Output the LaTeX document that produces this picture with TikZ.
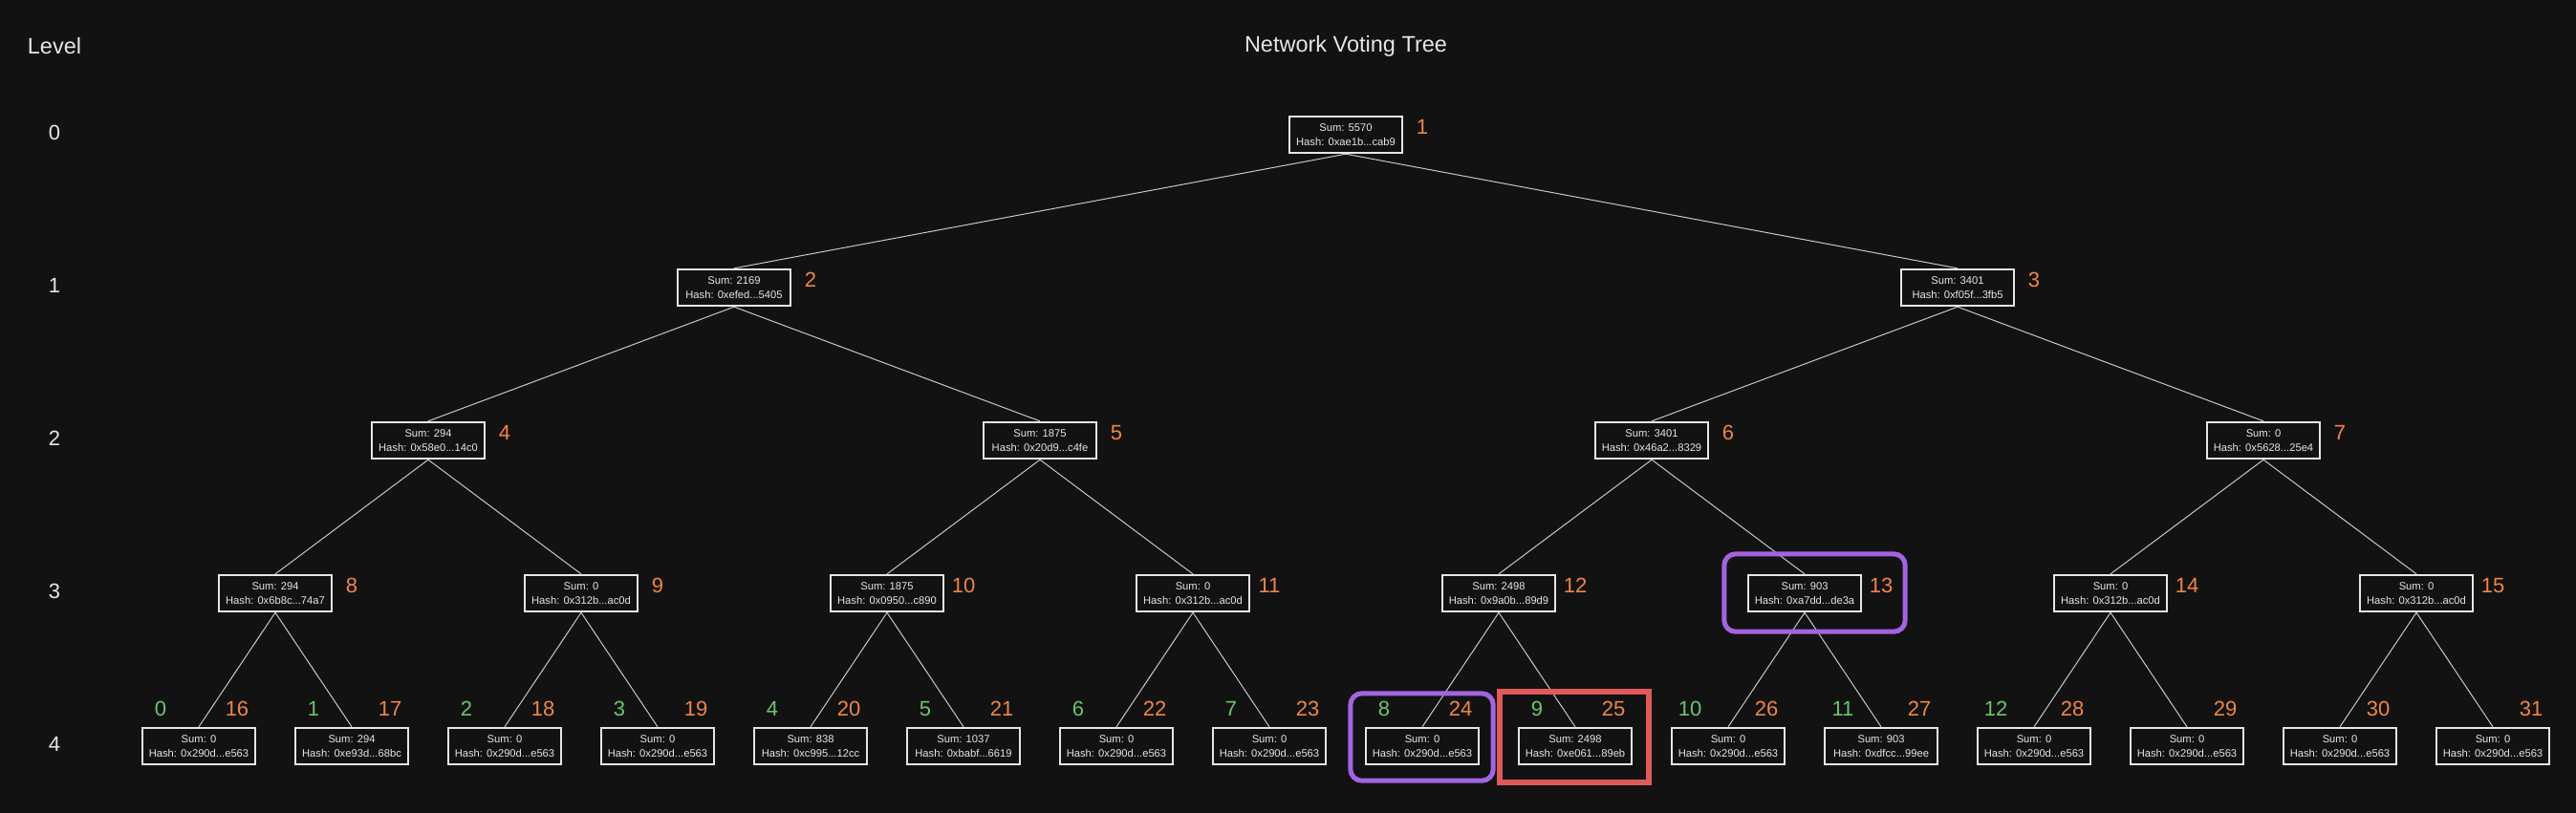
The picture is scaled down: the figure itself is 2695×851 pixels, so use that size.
\documentclass[tikz,border=0pt]{standalone}
\usepackage{fontspec}
\setmainfont{Liberation Sans}
\usetikzlibrary{calc}

\definecolor{bgc}{HTML}{121212}
\definecolor{boxc}{HTML}{E6E6E6}
\definecolor{linkc}{HTML}{C8C8C8}
\definecolor{numc}{HTML}{F08548}
\definecolor{votec}{HTML}{6CC46C}
\definecolor{hlpurple}{HTML}{A463E0}
\definecolor{hlred}{HTML}{E05A5A}

\begin{document}
\begin{tikzpicture}[x=1pt,y=-1pt,
  tree/.style={draw=boxc,line width=2.4pt,fill=bgc,text=boxc,minimum width=118pt,minimum height=38pt,inner sep=1pt,align=center,font=\fontsize{11.2}{15}\selectfont},
  num/.style={text=numc,inner sep=0pt,font=\fontsize{22}{26}\selectfont},
  vote/.style={num,text=votec},
  lvl/.style={text=boxc,inner sep=0pt,font=\fontsize{22}{26}\selectfont},
  heading/.style={text=boxc,inner sep=0pt,font=\fontsize{23.5}{28}\selectfont},
  link/.style={draw=linkc,line width=1pt},
  purplebox/.style={draw=hlpurple,line width=5pt,rounded corners=12pt},
  redbox/.style={draw=hlred,line width=6pt}]

\fill[bgc] (0,0) rectangle (2695,851);
\useasboundingbox (0,0) rectangle (2695,851);

\node[heading] (title) at (1408,48) {Network Voting Tree};
\node[heading] (levelhead) at (57,48) {Level};
\foreach \l in {0,...,4}
  \node[lvl] (lv\l) at (57,{139+160*\l}) {\l};

% level 0 - 3
\node[tree] (n1)  at (1408,141) {Sum: 5570\\Hash: 0xae1b...cab9};
\node[tree] (n2)  at (768,301)  {Sum: 2169\\Hash: 0xefed...5405};
\node[tree] (n3)  at (2048,301) {Sum: 3401\\Hash: 0xf05f...3fb5};
\node[tree] (n4)  at (448,461)  {Sum: 294\\Hash: 0x58e0...14c0};
\node[tree] (n5)  at (1088,461) {Sum: 1875\\Hash: 0x20d9...c4fe};
\node[tree] (n6)  at (1728,461) {Sum: 3401\\Hash: 0x46a2...8329};
\node[tree] (n7)  at (2368,461) {Sum: 0\\Hash: 0x5628...25e4};
\node[tree] (n8)  at (288,621)  {Sum: 294\\Hash: 0x6b8c...74a7};
\node[tree] (n9)  at (608,621)  {Sum: 0\\Hash: 0x312b...ac0d};
\node[tree] (n10) at (928,621)  {Sum: 1875\\Hash: 0x0950...c890};
\node[tree] (n11) at (1248,621) {Sum: 0\\Hash: 0x312b...ac0d};
\node[tree] (n12) at (1568,621) {Sum: 2498\\Hash: 0x9a0b...89d9};
\node[tree] (n13) at (1888,621) {Sum: 903\\Hash: 0xa7dd...de3a};
\node[tree] (n14) at (2208,621) {Sum: 0\\Hash: 0x312b...ac0d};
\node[tree] (n15) at (2528,621) {Sum: 0\\Hash: 0x312b...ac0d};

% leaves
\node[tree] (n16) at (208,781)  {Sum: 0\\Hash: 0x290d...e563};
\node[tree] (n17) at (368,781)  {Sum: 294\\Hash: 0xe93d...68bc};
\node[tree] (n18) at (528,781)  {Sum: 0\\Hash: 0x290d...e563};
\node[tree] (n19) at (688,781)  {Sum: 0\\Hash: 0x290d...e563};
\node[tree] (n20) at (848,781)  {Sum: 838\\Hash: 0xc995...12cc};
\node[tree] (n21) at (1008,781) {Sum: 1037\\Hash: 0xbabf...6619};
\node[tree] (n22) at (1168,781) {Sum: 0\\Hash: 0x290d...e563};
\node[tree] (n23) at (1328,781) {Sum: 0\\Hash: 0x290d...e563};
\node[tree] (n24) at (1488,781) {Sum: 0\\Hash: 0x290d...e563};
\node[tree] (n25) at (1648,781) {Sum: 2498\\Hash: 0xe061...89eb};
\node[tree] (n26) at (1808,781) {Sum: 0\\Hash: 0x290d...e563};
\node[tree] (n27) at (1968,781) {Sum: 903\\Hash: 0xdfcc...99ee};
\node[tree] (n28) at (2128,781) {Sum: 0\\Hash: 0x290d...e563};
\node[tree] (n29) at (2288,781) {Sum: 0\\Hash: 0x290d...e563};
\node[tree] (n30) at (2448,781) {Sum: 0\\Hash: 0x290d...e563};
\node[tree] (n31) at (2608,781) {Sum: 0\\Hash: 0x290d...e563};

% index numbers
\foreach \i in {1,...,15}
  \node[num] (k\i) at ($(n\i)+(80,-8)$) {\i};
\foreach \i in {16,...,31}
  \node[num] (k\i) at ($(n\i)+(40,-39)$) {\i};
\foreach \i [evaluate=\i as \j using int(\i-16)] in {16,...,28}
  \node[vote] (v\j) at ($(n\i)+(-40,-39)$) {\j};

% edges
\foreach \i in {2,...,31}{
  \pgfmathtruncatemacro{\p}{\i/2}
  \draw[link] (n\p.south) -- (n\i.north);
}

% highlights
\draw[purplebox] ($(n13.north west)+(-24,-21)$) rectangle ($(n13.south east)+(45,20)$);
\draw[purplebox] ($(n24.north west)+(-15,-35)$) rectangle ($(n24.south east)+(14,16)$);
\draw[redbox] ($(n25.north west)+(-19,-37)$) rectangle ($(n25.south east)+(17,18)$);

\end{tikzpicture}
\end{document}
